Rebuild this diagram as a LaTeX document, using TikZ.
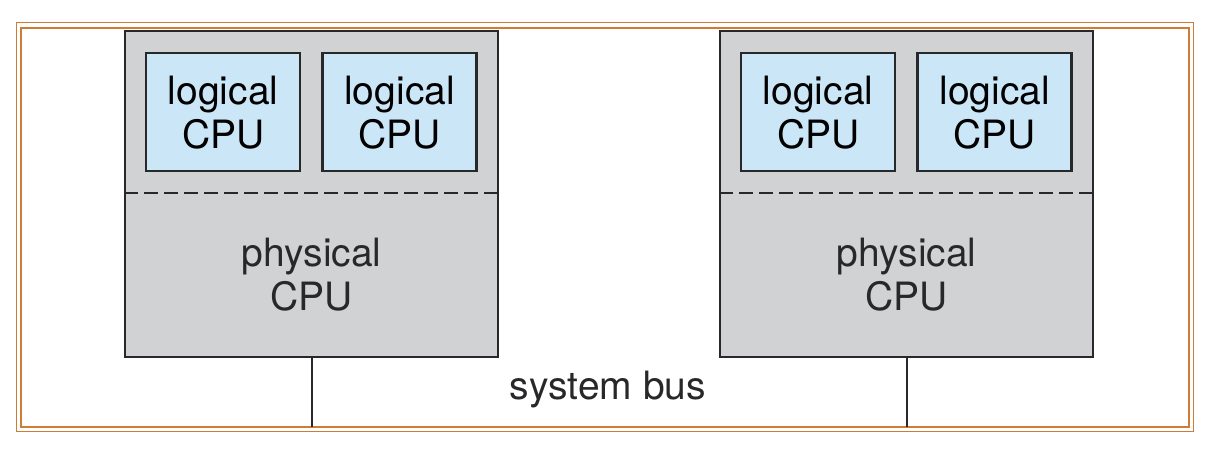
\documentclass[tikz,border=0pt]{standalone}
\usepackage{fontspec}
\setmainfont{TeX Gyre Heros}
\usetikzlibrary{positioning,calc}
\definecolor{MarcoNaranja}{RGB}{205,125,55}
\definecolor{GrisFisico}{RGB}{209,210,212}
\definecolor{AzulLogico}{RGB}{202,230,247}
\definecolor{TrazoOscuro}{RGB}{40,40,42}
\tikzset{
  physbox/.style={draw=TrazoOscuro, line width=1.2pt, fill=GrisFisico,
    minimum width=186.5pt, minimum height=163pt, inner sep=0pt},
  logbox/.style={draw=TrazoOscuro, line width=1.2pt, fill=AzulLogico, align=center,
    minimum width=77pt, minimum height=59pt, inner sep=0pt, font=\cpufont},
  cpulabel/.style={align=center, inner sep=0pt, font=\cpufont, text=TrazoOscuro},
  frameline/.style={draw=MarcoNaranja, line width=0.9pt},
  sepline/.style={draw=TrazoOscuro, line width=0.9pt, dash pattern=on 7pt off 3pt},
  busline/.style={draw=TrazoOscuro, line width=0.9pt},
}
\newcommand{\cpufont}{\fontsize{19.5}{22}\selectfont}
\begin{document}
\begin{tikzpicture}[x=0.5pt, y=-0.5pt]
  \useasboundingbox (0,0) rectangle (1205,453);
  % marco doble
  \draw[frameline] (16.5,22.5) rectangle (1193.5,431.5);
  \draw[frameline] (21,28) rectangle (1189,427);
  \coordinate (busfloor) at (0,427);

  % procesador izquierdo
  \node[physbox, anchor=north west] (phyA) at (124,30) {};
  \node[logbox, below right=11pt and 10.5pt of phyA.north west] (logA1) {logical\\CPU};
  \node[logbox, right=10pt of logA1] (logA2) {logical\\CPU};
  \draw[sepline] ([yshift=-81.5pt]phyA.north west) -- ([yshift=-81.5pt]phyA.north east);
  \node[cpulabel] (phyAlbl) at ([yshift=-122.5pt]phyA.north) {physical\\CPU};

  % procesador derecho
  \node[physbox, anchor=north west] (phyB) at (719,30) {};
  \node[logbox, below right=11pt and 10.5pt of phyB.north west] (logB1) {logical\\CPU};
  \node[logbox, right=10pt of logB1] (logB2) {logical\\CPU};
  \draw[sepline] ([yshift=-81.5pt]phyB.north west) -- ([yshift=-81.5pt]phyB.north east);
  \node[cpulabel] (phyBlbl) at ([yshift=-122.5pt]phyB.north) {physical\\CPU};

  % bus
  \draw[busline] (phyA.south) -- (phyA.south |- busfloor);
  \draw[busline] (phyB.south) -- (phyB.south |- busfloor);
  \node[cpulabel] (bus) at (608,390) {system bus};
\end{tikzpicture}
\end{document}
